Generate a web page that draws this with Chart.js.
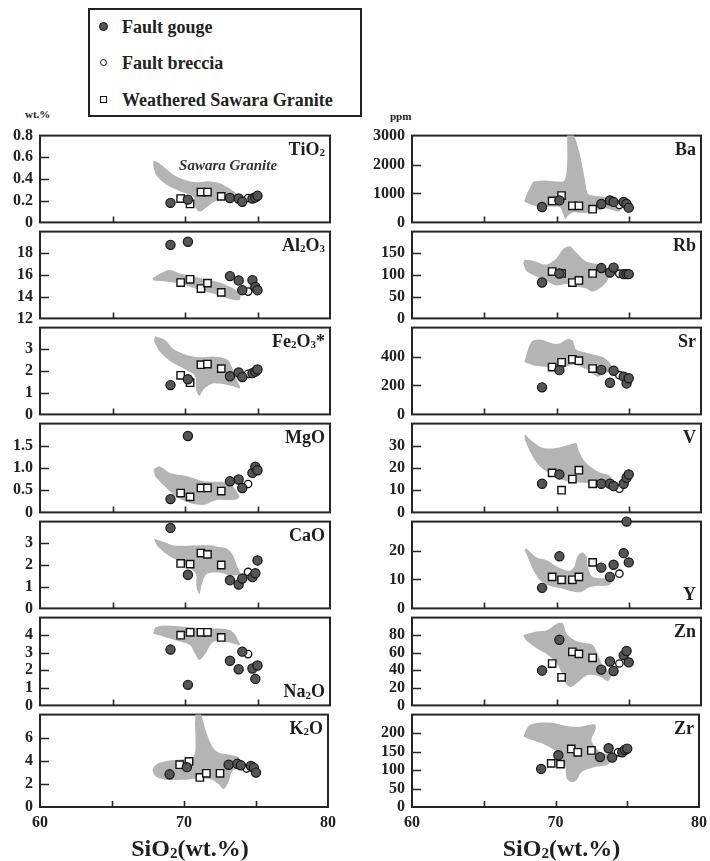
<!DOCTYPE html>
<html>
<head>
<meta charset="utf-8">
<script src="https://cdn.jsdelivr.net/npm/chart.js@4.4.1/dist/chart.umd.min.js"></script>
<style>
  html, body { margin: 0; padding: 0; background: #fff; }
  #wrap { position: relative; width: 710px; height: 861px; overflow: hidden;
    font-family: "Liberation Serif", "Times New Roman", serif; font-weight: bold; color: #222; }
  #wrap canvas { position: absolute; }
  .legend { position: absolute; left: 88px; top: 8px; width: 274px; height: 109px;
    border: 2px solid #222; box-sizing: border-box; }
  .row { position: absolute; left: 0; height: 22px; line-height: 22px; font-size: 18px; white-space: nowrap; }
  .row span.t { position: absolute; left: 32px; top: 0; }
  .mk { position: absolute; box-sizing: border-box; border: 1.3px solid #111; }
</style>
</head>
<body>
<div id="wrap">
  <div class="legend">
    <div class="row" style="top:6px"><span class="mk" style="left:9px;top:6px;width:9px;height:9px;border-radius:50%;background:#555"></span><span class="t">Fault gouge</span></div>
    <div class="row" style="top:42px"><span class="mk" style="left:10px;top:7px;width:7px;height:7px;border-radius:50%;background:#fff"></span><span class="t">Fault breccia</span></div>
    <div class="row" style="top:79px"><span class="mk" style="left:10px;top:7px;width:7px;height:7px;background:#fff"></span><span class="t">Weathered Sawara Granite</span></div>
  </div>
  <div style="position:absolute;left:25px;top:108px;font-size:11px">wt.%</div>
  <div style="position:absolute;left:390px;top:110px;font-size:11px">ppm</div>
</div>
<script>
(function () {
  'use strict'

  var INK = '#262626'
  var FIELD = '#b4b4b4'
  var FONT = '"Liberation Serif", "Times New Roman", serif'

  // SiO2 (wt.%) of the samples
  var sio2Gouge = [69.0, 70.2, 73.1, 73.7, 73.95, 74.65, 74.85, 75.0]
  var sio2Breccia = [74.35]
  var sio2Weathered = [69.7, 70.35, 71.1, 71.55, 72.5]

  // major elements (wt.%)
  var tio2Gouge = [0.18, 0.21, 0.225, 0.22, 0.19, 0.22, 0.23, 0.245]
  var tio2Breccia = [0.225]
  var tio2Weathered = [0.22, 0.17, 0.28, 0.28, 0.24]
  var tio2Field = [[67.85,0.57],[68.4,0.53],[68.8,0.48],[69.2,0.44],[70.0,0.39],[70.8,0.37],[71.6,0.38],[72.4,0.36],[73.1,0.31],[73.6,0.26],[73.85,0.22],[73.3,0.21],[72.5,0.215],[71.9,0.18],[71.3,0.12],[71.0,0.1],[70.7,0.14],[70.55,0.24],[69.6,0.29],[68.7,0.35],[68.0,0.44],[67.8,0.53]]

  var al2o3Gouge = [18.78, 19.06, 15.9, 15.5, 14.6, 15.53, 14.9, 14.6]
  var al2o3Breccia = [14.47]
  var al2o3Weathered = [15.3, 15.6, 14.75, 15.25, 14.4]
  var al2o3Field = [[67.77,15.72],[68.28,16.14],[68.97,16.47],[69.66,16.14],[70.57,15.86],[71.5,15.58],[72.4,15.3],[73.33,14.75],[73.8,14.19],[73.75,13.69],[73.1,13.78],[72.2,14.19],[71.03,14.6],[70.1,15.03],[69.2,15.3],[68.28,15.44],[67.8,15.5]]

  var fe2o3Gouge = [1.35, 1.62, 1.76, 1.93, 1.72, 1.9, 1.97, 2.07]
  var fe2o3Breccia = [1.87]
  var fe2o3Weathered = [1.8, 1.46, 2.29, 2.32, 2.11]
  var fe2o3Field = [[67.93,3.6],[68.62,3.43],[69.2,3.01],[70.1,2.74],[71.03,2.63],[71.95,2.67],[72.9,2.53],[73.33,2.04],[73.56,1.63],[73.8,1.21],[73.3,1.3],[72.4,1.42],[71.9,1.42],[71.26,1.14],[71.0,0.86],[70.76,1.14],[70.7,1.76],[69.9,2.11],[68.97,2.46],[68.28,2.87],[67.86,3.36]]

  var mgoGouge = [0.30, 1.72, 0.70, 0.74, 0.55, 0.89, 1.03, 0.95]
  var mgoBreccia = [0.64]
  var mgoWeathered = [0.435, 0.35, 0.55, 0.55, 0.48]
  var mgoField = [[67.82,0.97],[68.28,1.03],[68.97,0.89],[70.1,0.82],[71.26,0.70],[72.4,0.69],[73.1,0.65],[73.45,0.52],[73.75,0.35],[73.56,0.29],[72.9,0.28],[72.2,0.28],[71.4,0.18],[71.0,0.17],[70.34,0.21],[69.4,0.35],[68.5,0.62],[67.93,0.82]]

  var caoGouge = [3.71, 1.55, 1.30, 1.10, 1.375, 1.44, 1.62, 2.21]
  var caoBreccia = [1.68]
  var caoWeathered = [2.07, 2.04, 2.55, 2.49, 2.0]
  var caoField = [[67.86,3.21],[68.5,3.07],[69.2,2.9],[70.57,2.9],[71.95,2.9],[72.3,2.83],[72.9,2.76],[73.33,2.42],[73.6,1.93],[73.8,1.58],[73.1,1.51],[72.4,1.65],[71.5,1.58],[71.15,1.1],[71.0,0.65],[70.8,0.96],[70.76,1.58],[70.46,1.79],[69.66,2.14],[68.74,2.49],[68.05,2.9]]

  var na2oGouge = [3.18, 1.17, 2.54, 2.06, 3.06, 2.10, 1.51, 2.27]
  var na2oBreccia = [2.92]
  var na2oWeathered = [4.0, 4.16, 4.16, 4.16, 3.87]
  var na2oField = [[67.93,4.43],[68.5,4.55],[70.1,4.47],[71.5,4.38],[72.4,4.38],[73.1,4.29],[73.45,4.04],[73.68,3.7],[73.8,3.44],[72.9,3.61],[71.95,3.61],[71.38,2.92],[71.0,2.58],[70.7,2.92],[70.34,3.44],[69.4,3.7],[68.5,3.92],[67.8,4.09]]

  var k2oGouge = [2.83, 3.45, 3.66, 3.74, 3.61, 3.55, 3.39, 2.98]
  var k2oBreccia = [3.33]
  var k2oWeathered = [3.66, 3.94, 2.56, 2.92, 2.92]
  var k2oField = [[70.8,8.1],[71.15,8.1],[71.5,6.64],[71.95,5.26],[72.4,4.71],[73.33,4.49],[73.8,4.3],[73.84,3.74],[73.56,3.33],[73.33,3.06],[73.1,2.23],[72.76,1.55],[72.4,1.96],[71.95,2.37],[71.03,2.5],[70.1,2.37],[68.74,2.37],[68.05,2.64],[67.82,3.2],[68.16,3.74],[69.0,4.02],[70.1,4.16],[70.7,4.44],[70.8,5.81],[70.76,7.19]]

  // trace elements (ppm)
  var baGouge = [531, 760, 635, 760, 708, 708, 635, 510]
  var baBreccia = [604]
  var baWeathered = [740, 927, 573, 573, 458]
  var baField = [[68.37,1416],[69.29,1448],[69.98,1416],[70.55,1448],[70.74,2094],[70.78,3100],[71.12,3100],[71.59,2406],[71.93,1572],[72.16,1000],[72.5,927],[73.43,865],[74.12,740],[74.53,531],[74.3,375],[73.43,479],[72.28,344],[71.59,323],[71.12,344],[70.78,219],[70.62,115],[70.43,323],[70.21,531],[68.83,531],[68.14,635],[67.79,740],[68.02,1052]]

  var rbGouge = [82.6, 103.5, 116, 105.6, 117, 102, 102, 102]
  var rbBreccia = [103]
  var rbWeathered = [108, 103.5, 82.6, 87.5, 103.5]
  var rbField = [[67.79,135],[68.37,133],[69.29,124],[69.98,138],[70.43,159],[70.9,166],[71.36,152],[72.05,131],[72.97,124],[73.54,114],[73.61,96.5],[73.43,82.6],[72.97,68.8],[72.5,61.8],[72.05,68.8],[71.12,75.7],[70.66,79],[69.98,75.7],[69.29,86],[68.6,96.5],[67.91,110],[67.7,127]]

  var srGouge = [187, 306, 308, 219, 302, 261, 214, 250]
  var srBreccia = [271]
  var srWeathered = [327, 360, 381, 371, 317]
  var srField = [[67.79,365],[68.25,500],[68.83,517],[69.75,490],[70.2,490],[70.78,521],[71.12,510],[71.36,448],[72.05,427],[73.2,396],[73.77,344],[73.77,302],[73.2,281],[72.85,260],[72.05,313],[71.12,344],[70.2,313],[69.29,327],[68.37,340],[67.8,360]]

  var vGouge = [12.9, 17.1, 12.9, 12.9, 11.9, 12.9, 15.6, 17.1]
  var vBreccia = [10.7]
  var vWeathered = [17.8, 10.0, 15.0, 19.0, 12.9]
  var vField = [[67.79,35.2],[68.37,31.8],[69.06,29],[69.98,29],[70.9,30.5],[71.36,31.1],[71.54,27.7],[72.05,22.2],[72.97,18.0],[73.66,16.7],[73.84,14.6],[73.43,13.2],[72.97,12.5],[72.05,13.2],[70.9,13.9],[70.43,14.6],[69.75,16.7],[68.83,20.8],[68.25,26.3],[67.79,33.2]]

  var yGouge = [7.1, 18.0, 14.1, 10.9, 15.1, 19.1, 30, 15.9]
  var yBreccia = [12.0]
  var yWeathered = [10.9, 9.9, 9.9, 10.9, 15.9]
  var yField = [[67.91,20.8],[68.6,17.7],[69.29,16.7],[69.98,14.6],[70.9,13.0],[71.24,14.6],[71.47,18.2],[71.82,19.3],[72.09,17.7],[72.16,14.6],[72.5,10.9],[73.43,10.2],[73.84,9.4],[73.66,8.1],[72.97,7.8],[72.28,7.3],[71.7,5.7],[71.12,5.8],[70.43,6.8],[69.52,7.8],[68.83,9.9],[68.37,13.5],[68.02,17.7],[67.79,20.2]]

  var znGouge = [39.8, 74.7, 40.8, 50, 39.2, 57, 62, 49]
  var znBreccia = [47.7]
  var znWeathered = [47.7, 32, 61, 58.7, 54.2]
  var znField = [[67.79,80.8],[68.6,84.3],[69.4,86],[69.98,92.8],[70.43,93.5],[70.67,82.6],[71.12,75.7],[71.59,72.3],[72.5,68.9],[72.85,58.7],[73.2,44.9],[73.77,34.7],[73.54,27.9],[72.97,33],[72.16,34.7],[71.59,27.9],[71.01,21],[70.67,24.1],[70.43,34.7],[69.98,48.4],[69.29,58.7],[68.6,65.4],[67.91,74],[67.7,79]]

  var zrGouge = [103, 140, 135, 159, 134, 148, 155, 158]
  var zrBreccia = [148]
  var zrWeathered = [118, 116, 157, 148, 153]
  var zrField = [[67.79,194],[68.14,220],[68.83,228],[69.75,228],[70.67,220],[71.59,217],[72.74,224],[72.8,211],[72.5,181],[72.74,164],[73.2,147],[74.0,138],[73.66,116],[72.74,108],[71.82,95],[71.47,73],[71.12,67],[70.78,78],[70.67,112],[70.2,147],[69.29,168],[68.37,181],[67.79,190]]

  var xTickMarks = [65, 70, 75]

  var panels = [
    { col: 0, row: 0, label: 'TiO2', min: 0, max: 0.8, step: 0.2, dec: 1, showTop: true, g: tio2Gouge, b: tio2Breccia, w: tio2Weathered, f: tio2Field, note: 'Sawara Granite' },
    { col: 0, row: 1, label: 'Al2O3', min: 12, max: 20, step: 2, g: al2o3Gouge, b: al2o3Breccia, w: al2o3Weathered, f: al2o3Field },
    { col: 0, row: 2, label: 'Fe2O3*', min: 0, max: 4, step: 1, g: fe2o3Gouge, b: fe2o3Breccia, w: fe2o3Weathered, f: fe2o3Field },
    { col: 0, row: 3, label: 'MgO', min: 0, max: 2, step: 0.5, dec: 1, g: mgoGouge, b: mgoBreccia, w: mgoWeathered, f: mgoField },
    { col: 0, row: 4, label: 'CaO', min: 0, max: 4, step: 1, g: caoGouge, b: caoBreccia, w: caoWeathered, f: caoField },
    { col: 0, row: 5, label: 'Na2O', min: 0, max: 5, step: 1, g: na2oGouge, b: na2oBreccia, w: na2oWeathered, f: na2oField, labelAtBottom: true },
    { col: 0, row: 6, label: 'K2O', min: 0, max: 8, step: 2, g: k2oGouge, b: k2oBreccia, w: k2oWeathered, f: k2oField },
    { col: 1, row: 0, label: 'Ba', min: 0, max: 3000, step: 1000, showTop: true, g: baGouge, b: baBreccia, w: baWeathered, f: baField },
    { col: 1, row: 1, label: 'Rb', min: 0, max: 200, step: 50, g: rbGouge, b: rbBreccia, w: rbWeathered, f: rbField },
    { col: 1, row: 2, label: 'Sr', min: 0, max: 600, step: 200, g: srGouge, b: srBreccia, w: srWeathered, f: srField },
    { col: 1, row: 3, label: 'V', min: 0, max: 40, step: 10, g: vGouge, b: vBreccia, w: vWeathered, f: vField },
    { col: 1, row: 4, label: 'Y', min: 0, max: 30, step: 10, g: yGouge, b: yBreccia, w: yWeathered, f: yField, labelAtBottom: true },
    { col: 1, row: 5, label: 'Zn', min: 0, max: 100, step: 20, g: znGouge, b: znBreccia, w: znWeathered, f: znField },
    { col: 1, row: 6, label: 'Zr', min: 0, max: 250, step: 50, g: zrGouge, b: zrBreccia, w: zrWeathered, f: zrField }
  ]

  // page geometry of the plot boxes
  var colLeft = [40, 412]
  var colRight = [330, 701]
  var rowTop = [131, 227, 323, 419, 517, 613, 710, 807]
  var AXW = 52, PADT = 12, PADR = 12

  function chemText(ctx, s, x, y, size, align, style) {
    var big = (style || 'bold') + ' ' + size + 'px ' + FONT
    var small = (style || 'bold') + ' ' + Math.round(size * 0.62) + 'px ' + FONT
    var parts = s.split('').map(function (c) { return { c: c, sub: /[0-9]/.test(c) } })
    var total = 0
    parts.forEach(function (p) { ctx.font = p.sub ? small : big; p.w = ctx.measureText(p.c).width; total += p.w })
    var cx = align === 'right' ? x - total : align === 'center' ? x - total / 2 : x
    ctx.textAlign = 'left'
    ctx.textBaseline = 'alphabetic'
    parts.forEach(function (p) {
      ctx.font = p.sub ? small : big
      ctx.fillText(p.c, cx, p.sub ? y + size * 0.1 : y)
      cx += p.w
    })
  }

  var decor = {
    id: 'decor',
    beforeDatasetsDraw: function (chart, args, o) {
      var ctx = chart.ctx, a = chart.chartArea, x = chart.scales.x, y = chart.scales.y
      ctx.save()
      ctx.strokeStyle = INK
      ctx.lineWidth = 2
      ctx.strokeRect(a.left, a.top, a.right - a.left, a.bottom - a.top)
      ctx.lineWidth = 1.6
      ctx.beginPath()
      y.ticks.forEach(function (t) {
        if (t.value > y.min && t.value < y.max) {
          var py = Math.round(y.getPixelForValue(t.value)) + 0.5
          ctx.moveTo(a.left, py)
          ctx.lineTo(a.left + 9, py)
        }
      })
      xTickMarks.forEach(function (v) {
        var px = Math.round(x.getPixelForValue(v)) + 0.5
        ctx.moveTo(px, a.bottom)
        ctx.lineTo(px, a.bottom - 6)
      })
      ctx.stroke()
      ctx.restore()
    },
    afterDatasetsDraw: function (chart, args, o) {
      var ctx = chart.ctx, a = chart.chartArea, x = chart.scales.x, y = chart.scales.y
      ctx.save()
      ctx.fillStyle = '#1e1e1e'
      var base = o.labelAtBottom ? a.bottom - 8 : a.top + 19
      chemText(ctx, o.label, a.right - 5, base, 18, 'right')
      if (o.note) {
        ctx.font = 'italic bold 15px ' + FONT
        ctx.textAlign = 'center'
        ctx.fillStyle = '#333'
        ctx.fillText(o.note, x.getPixelForValue(72.97), y.getPixelForValue(0.483))
      }
      if (o.title) {
        ctx.fillStyle = '#1e1e1e'
        chemText(ctx, o.title, (a.left + a.right) / 2 + 6, a.bottom + 49, 24, 'center')
      }
      ctx.restore()
    }
  }

  function pts(xs, ys) {
    return ys.map(function (v, i) { return { x: xs[i], y: v } })
  }

  var wrap = document.getElementById('wrap')

  panels.forEach(function (p) {
    var L = colLeft[p.col], R = colRight[p.col], T = rowTop[p.row], B = rowTop[p.row + 1]
    var bottom = p.row === 6
    var xH = bottom ? 30 : 0
    var padB = bottom ? 26 : 12
    var cv = document.createElement('canvas')
    cv.width = AXW + (R - L) + PADR
    cv.height = PADT + (B - T) + xH + padB
    cv.style.left = (L - AXW) + 'px'
    cv.style.top = (T - PADT) + 'px'
    wrap.appendChild(cv)

    var tickFont = { family: FONT, size: 16, weight: 'bold' }

    // eslint-disable-next-line no-new
    new Chart(cv, {
      type: 'scatter',
      data: {
        datasets: [
          {
            type: 'line',
            data: p.f.map(function (q) { return { x: q[0], y: q[1] } }),
            fill: 'shape',
            backgroundColor: FIELD,
            borderWidth: 0,
            pointRadius: 0,
            tension: 0.3,
            order: 4
          },
          {
            data: pts(sio2Weathered, p.w),
            pointStyle: 'rect',
            pointRadius: 5.2,
            backgroundColor: '#fff',
            borderColor: '#111',
            borderWidth: 1.4,
            clip: false,
            order: 3
          },
          {
            data: pts(sio2Breccia, p.b),
            pointStyle: 'circle',
            pointRadius: 3.7,
            backgroundColor: '#fff',
            borderColor: '#111',
            borderWidth: 1.3,
            clip: false,
            order: 2
          },
          {
            data: pts(sio2Gouge, p.g),
            pointStyle: 'circle',
            pointRadius: 4.6,
            backgroundColor: '#555',
            borderColor: '#151515',
            borderWidth: 1.2,
            clip: false,
            order: 1
          }
        ]
      },
      options: {
        responsive: false,
        animation: false,
        events: [],
        layout: { padding: { top: PADT, right: PADR, bottom: padB, left: 0 } },
        plugins: {
          legend: { display: false },
          tooltip: { enabled: false },
          decor: { label: p.label, labelAtBottom: p.labelAtBottom, note: p.note, title: bottom ? 'SiO2(wt.%)' : null }
        },
        scales: {
          x: {
            type: 'linear',
            min: 60,
            max: 80,
            display: bottom,
            afterFit: function (s) { s.height = xH },
            grid: { display: false, drawTicks: false },
            border: { display: false },
            ticks: { stepSize: 10, autoSkip: false, maxRotation: 0, padding: 6, font: tickFont, color: '#222' }
          },
          y: {
            min: p.min,
            max: p.max,
            afterFit: function (s) { s.width = AXW },
            grid: { display: false, drawTicks: false },
            border: { display: false },
            ticks: {
              stepSize: p.step,
              autoSkip: false,
              padding: 7,
              font: tickFont,
              color: '#222',
              callback: function (v) {
                if (Math.abs(v - p.max) < 1e-9 && !p.showTop) return ''
                if (Math.abs(v) < 1e-9) return '0'
                return v.toFixed(p.dec || 0)
              }
            }
          }
        }
      },
      plugins: [decor]
    })
  })
}())
</script>
</body>
</html>
